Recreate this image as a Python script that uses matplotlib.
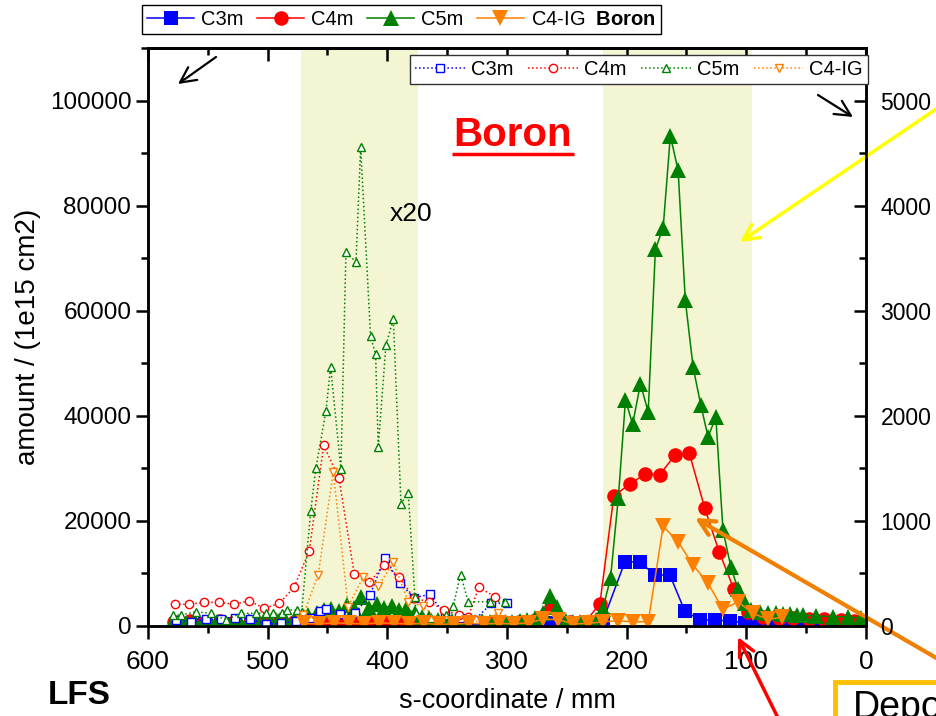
import matplotlib
matplotlib.use('Agg')
import matplotlib.pyplot as plt
import matplotlib.patches as mpatches
from matplotlib.ticker import MultipleLocator

plt.rcParams['font.family'] = ['Liberation Sans', 'DejaVu Sans']
plt.rcParams['mathtext.fontset'] = 'custom'
plt.rcParams['mathtext.rm'] = 'Liberation Sans'
plt.rcParams['mathtext.bf'] = 'Liberation Sans:bold'

# Datos rellenos (linea solida)
x_c3m = [577, 564, 552, 539, 527, 514, 502, 489, 477, 464, 452, 439, 427, 414, 402, 389,
         377, 364, 352, 339, 327, 314, 302, 289, 277, 264, 252, 239, 227,
         219.6, 201.5, 189, 176.4, 163.9, 151.4, 138.8, 126.3, 113.8, 101.3,
         89, 76, 64, 51, 39, 26, 14, 1]
y_c3m = [300, 200, 300, 250, 300, 200, 250, 300, 250, 300, 400, 350, 300, 250, 300, 250,
         200, 250, 200, 250, 200, 250, 200, 250, 300, 500, 300, 200, 250,
         1140, 12200, 12200, 9700, 9700, 2850, 1140, 1140, 950, 630,
         400, 300, 300, 200, 200, 200, 100, 100]

x_c4m = [578, 565, 553, 540, 528, 515, 503, 490, 478, 465, 453, 440, 428, 415, 403, 390,
         378, 365, 353, 340, 328, 315, 303, 290, 278, 263, 247, 235,
         222.4, 210.7, 197.3, 184.8, 172.3, 159.7, 147.8, 134.7, 122.7, 110.4, 98.5,
         86, 73, 61, 48, 35, 21, 10, 0]
y_c4m = [800, 1000, 600, 900, 700, 800, 600, 900, 700, 800, 600, 900, 700, 1200, 800, 1000,
         700, 600, 500, 700, 600, 500, 600, 700, 900, 3600, 800, 700,
         4200, 24800, 27000, 28900, 28800, 32500, 33000, 22400, 14100, 7000, 2700,
         1800, 1600, 1500, 1400, 1300, 1200, 1000, 900]

x_c5m = [580, 573, 567, 561, 554, 548, 542, 535, 529, 523, 516, 510, 504, 497, 491, 485,
         478, 472, 466, 459, 453, 447, 440, 434, 428, 422, 415, 409, 403, 396, 390, 384,
         377, 371, 365, 358, 352, 346, 339, 333, 327, 321, 314, 308, 302, 296, 289, 283,
         277, 270, 264, 258, 251, 245, 239, 232, 226,
         220, 213.5, 207, 201, 195, 188.5, 182, 176, 169.5, 163.5, 157, 151, 144.5, 138,
         132, 125.5, 119.5, 113, 107, 101, 95.7, 88.7, 81.8, 74.8, 69.3, 63.7, 58, 52.6,
         41.5, 27.5, 15, 3.9]
y_c5m = [300, 600, 500, 700, 600, 800, 700, 600, 800, 700, 900, 800, 700, 900, 1000, 900,
         1200, 1500, 2000, 2500, 3000, 3200, 2800, 4000, 3500, 5500, 3500, 4200, 3500, 3800, 3000, 3200,
         2500, 1800, 1500, 1200, 1000, 900, 1100, 800, 700, 900, 800, 1000, 700, 800, 900, 1200,
         1500, 2500, 5800, 3700, 1000, 800, 700, 800, 1200,
         3200, 9100, 24300, 43000, 38400, 46100, 40700, 71700, 75800, 93300, 86700, 62000, 49300, 42000,
         36000, 39700, 18200, 11300, 7000, 4400, 3000, 2700, 2500, 2400, 2300, 2200, 2100, 2090,
         1900, 1770, 1770, 1460]

x_c4ig = [469.5, 457, 444.5, 432, 419.5, 407, 394.5, 382, 369.5, 357, 344.5, 332, 319.5,
          307, 294.5, 282, 269.5, 257, 244.5, 232, 219.5, 207, 194.5, 182, 169.5, 157,
          144.5, 132, 119.5, 107, 94.5, 82, 70]
y_c4ig = [500, 400, 600, 500, 400, 600, 500, 400, 500, 300, 400, 500, 400,
          500, 400, 600, 1300, 1200, 400, 500, 800, 1000, 800, 800, 19000, 16000,
          11600, 8100, 3170, 4600, 2400, 1270, 1650]

# Datos abiertos (x20, linea punteada)
xo_c3m = [577, 564.4, 551.8, 539.3, 527.3, 514.5, 501.7, 489, 476.6, 464.3, 456.3, 451.5,
          439.6, 427.1, 414.5, 402, 389.5, 377.6, 364.4, 351.9, 339.4, 326.9, 313, 300.4]
yo_c3m = [1140, 820, 1270, 1270, 1460, 1330, 320, 510, 950, 1460, 2910, 3170,
          2280, 2410, 5890, 12990, 8110, 5390, 6020, 2090, 1500, 1200, 4300, 4300]

xo_c4m = [577.4, 565.5, 553, 540.5, 528, 515.5, 502.9, 490.3, 478, 465.2, 453.2, 440.4,
          427.6, 415, 402.6, 390, 377.8, 365, 352.5, 340, 332.4, 323.5, 310]
yo_c4m = [4120, 4120, 4500, 4500, 4120, 4810, 3360, 4300, 7350, 14300, 34400, 28100,
          9830, 8300, 11600, 9380, 5270, 4620, 3000, 2090, 1770, 7350, 5570]

xo_c5m = [578.9, 572.5, 560, 547.4, 534.8, 522.6, 510, 501, 495.6, 488.3, 484, 475.8,
          471.6, 464, 459.7, 451.3, 447.4, 438.8, 434.6, 426.2, 422.3, 414, 409.8, 407.6,
          401.2, 395, 388.6, 382.5, 377, 376, 370, 363.6, 351, 345, 338.8, 332.4, 313.8, 301.8]
yo_c5m = [2090, 2090, 2720, 2410, 1140, 2410, 2410, 2410, 2410, 2410, 3040, 3040,
          2720, 21900, 30000, 40900, 49300, 29800, 71100, 69300, 91100, 55100, 51700, 34100,
          53400, 58400, 23300, 25300, 5570, 2530, 1650, 1500, 2090, 3800, 9800, 4620, 4620, 4620]

xo_c4ig = [470.3, 457.8, 445.2, 432.7, 420.1, 407.6, 395, 382.5, 370, 357.5, 345.5, 333,
           320, 307.4]
yo_c4ig = [2090, 9700, 29300, 3670, 9380, 7600, 12100, 4620, 3800, 1140, 510, 510,
           1140, 2530]

regiones = [(374, 472), (95, 220)]

AZUL = '#0000ff'
ROJO = '#ff0000'
VERDE = '#008000'
NARANJA = '#ff8000'

fig = plt.figure(figsize=(9.37, 7.16), dpi=100)
ax = fig.add_axes([148 / 937, 1 - 626 / 716, 718 / 937, 578 / 716])

for a, b in regiones:
    ax.axvspan(a, b, color='#f3f5d3', lw=0, zorder=0)

m_rell = dict(lw=1.1, markeredgewidth=0)
l1, = ax.plot(x_c3m, y_c3m, '-s', color=AZUL, ms=10, zorder=3, **m_rell)
l2, = ax.plot(x_c4m, y_c4m, '-o', color=ROJO, ms=10.5, zorder=3, **m_rell)
l3, = ax.plot(x_c5m, y_c5m, '-^', color=VERDE, ms=12, zorder=3, **m_rell)

m_ab = dict(lw=1.1, ls=':', mfc='white', ms=6, markeredgewidth=1.0)
o1, = ax.plot(xo_c3m, yo_c3m, marker='s', color=AZUL, zorder=4, **m_ab)
o2, = ax.plot(xo_c4m, yo_c4m, marker='o', color=ROJO, zorder=4, **m_ab)
o3, = ax.plot(xo_c5m, yo_c5m, marker='^', color=VERDE, zorder=4, **m_ab)
o4, = ax.plot(xo_c4ig, yo_c4ig, marker='v', color=NARANJA, zorder=4, **m_ab)

l4, = ax.plot(x_c4ig, y_c4ig, '-v', color=NARANJA, ms=12, zorder=5, **m_rell)

ax.set_xlim(600, 0)
ax.set_ylim(0, 110000)
ax.xaxis.set_major_locator(MultipleLocator(100))
ax.xaxis.set_minor_locator(MultipleLocator(50))
ax.yaxis.set_major_locator(MultipleLocator(20000))
ax.yaxis.set_minor_locator(MultipleLocator(10000))
ax.tick_params(axis='both', which='major', direction='out', length=9, width=1.8)
ax.tick_params(axis='both', which='minor', direction='out', length=5, width=1.8)
ax.tick_params(axis='x', labelsize=19, pad=8)
ax.tick_params(axis='y', labelsize=17.5, pad=3)
for s in ax.spines.values():
    s.set_linewidth(1.8)

arriba = ax.secondary_xaxis('top')
arriba.xaxis.set_major_locator(MultipleLocator(100))
arriba.xaxis.set_minor_locator(MultipleLocator(50))
arriba.tick_params(which='major', direction='in', length=9, width=1.8, labeltop=False)
arriba.tick_params(which='minor', direction='in', length=5, width=1.8)
arriba.spines['top'].set_linewidth(1.8)

ax2 = ax.twinx()
ax2.set_ylim(0, 5500)
ax2.yaxis.set_major_locator(MultipleLocator(1000))
ax2.yaxis.set_minor_locator(MultipleLocator(500))
ax2.tick_params(which='major', direction='in', length=9, width=1.8, labelsize=16.5, pad=10.5)
ax2.tick_params(which='minor', direction='in', length=5, width=1.8)
for s in ax2.spines.values():
    s.set_linewidth(1.8)

ax.set_ylabel('amount / (1e15 cm2)', fontsize=20, labelpad=6)
ax.set_xlabel('s-coordinate / mm', fontsize=19.5, labelpad=10)

ax.text(0.508, 0.85, 'Boron', transform=ax.transAxes, color='red', fontsize=29,
        fontweight='bold', ha='center', va='center')
ax.plot([0.423, 0.593], [0.817, 0.817], transform=ax.transAxes, color='red', lw=2.5,
        solid_capstyle='butt', zorder=6)
ax.text(398, 78500, 'x20', fontsize=19, ha='left', va='center')
fig.text(48 / 937, 1 - 696 / 716, 'LFS', fontsize=24, fontweight='bold', va='center')

fig.legend([l1, l2, l3, l4], ['C3m', 'C4m', 'C5m', r'C4-IG  $\mathbf{Boron}$'],
           loc='upper left', bbox_to_anchor=(142 / 937, 1 - 5 / 716), ncol=4,
           fontsize=14.5, handlelength=2.35, handletextpad=0.35, columnspacing=0.65,
           borderpad=0.25, borderaxespad=0, fancybox=False, edgecolor='black',
           framealpha=1).get_frame().set_linewidth(1.0)

leg2 = ax2.legend([o1, o2, o3, o4], ['C3m', 'C4m', 'C5m', 'C4-IG'], loc='upper right',
                  bbox_to_anchor=(1.003, 0.988), ncol=4, fontsize=14.5, handlelength=2.45,
                  handletextpad=0.3, columnspacing=0.75, borderpad=0.25, borderaxespad=0,
                  fancybox=False, edgecolor='#333333', framealpha=1)
leg2.get_frame().set_linewidth(1.0)


def flecha(cola, punta, color, lw):
    ax.annotate('', xy=(punta[0], 716 - punta[1]), xycoords='figure pixels',
                xytext=(cola[0], 716 - cola[1]), textcoords='figure pixels',
                arrowprops=dict(arrowstyle='->', color=color, lw=lw, mutation_scale=28,
                                shrinkA=0, shrinkB=0),
                annotation_clip=False)


flecha((216, 57), (178, 84), 'black', 1.6)
flecha((818, 95), (853, 117), 'black', 1.6)
flecha((945, 103), (740, 242), '#ffff00', 2.5)
flecha((945, 663), (695, 518), '#f08000', 3.0)
flecha((780, 722), (738, 637), '#ff0000', 2.5)

caja = mpatches.Rectangle((835 / 937, -0.1), 0.2, 0.1 + 34 / 716, fill=False,
                          edgecolor='#ffc000', lw=3.5, transform=fig.transFigure,
                          clip_on=False)
fig.patches.append(caja)
fig.text(853 / 937, 1 - 690 / 716, 'Deposition', fontsize=27, va='top', ha='left')

fig.savefig('out.png', dpi=100)
